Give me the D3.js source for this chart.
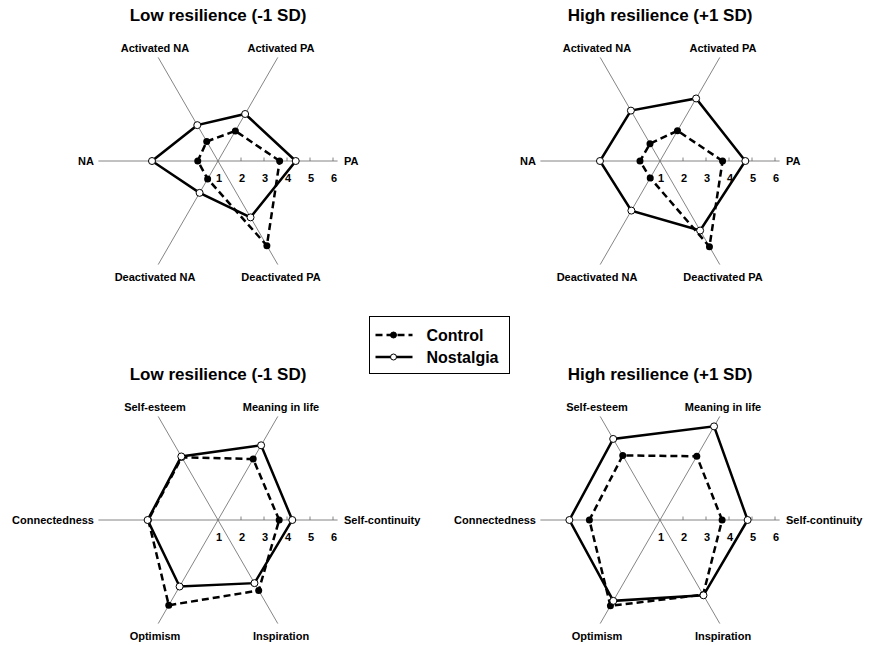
<!DOCTYPE html>
<html>
<head>
<meta charset="utf-8">
<script src="https://cdn.jsdelivr.net/npm/d3@7"></script>
<style>
  body { margin: 0; background: #fff; }
  svg text { font-family: "Liberation Sans", Arial, sans-serif; font-weight: bold; fill: #000; }
</style>
</head>
<body>
<div id="chart"></div>
<script>
// Axis names (counter-clockwise from the right)
const affectAxes = ["PA", "Activated PA", "Activated NA", "NA", "Deactivated NA", "Deactivated PA"];
const selfAxes = ["Self-continuity", "Meaning in life", "Self-esteem", "Connectedness", "Optimism", "Inspiration"];
const tickValues = [1, 2, 3, 4, 5, 6];

// Series values, same order as the axes
const affectLowControl = [3.68, 2.51, 1.98, 1.88, 1.90, 5.25];
const affectLowNostalgia = [4.38, 3.36, 2.80, 3.87, 2.60, 3.83];
const affectHighControl = [3.72, 2.52, 1.87, 1.87, 1.85, 5.30];
const affectHighNostalgia = [4.71, 4.14, 3.53, 3.61, 3.49, 4.49];
const selfLowControl = [3.66, 4.06, 4.15, 4.03, 5.28, 4.54];
const selfLowNostalgia = [4.23, 4.75, 4.19, 4.06, 4.34, 4.17];
const selfHighControl = [3.70, 4.20, 4.24, 4.07, 5.31, 4.75];
const selfHighNostalgia = [4.81, 5.70, 5.07, 4.94, 5.06, 4.78];

const width = 870;
const height = 645;

const svg = d3.select("#chart").append("svg")
    .attr("width", width)
    .attr("height", height);

// value 1 sits in the centre, 6 at the outer tick
const r = d3.scaleLinear().domain([1, 6]).range([0, 115]);
const axisEnd = r(6.2);
const angle = i => i * Math.PI / 3;

const panels = [
    { cx: 218, cy: 161, title: "Low resilience (-1 SD)", axes: affectAxes, control: affectLowControl, nostalgia: affectLowNostalgia },
    { cx: 660, cy: 161, title: "High resilience (+1 SD)", axes: affectAxes, control: affectHighControl, nostalgia: affectHighNostalgia },
    { cx: 218, cy: 520, title: "Low resilience (-1 SD)", axes: selfAxes, control: selfLowControl, nostalgia: selfLowNostalgia },
    { cx: 660, cy: 520, title: "High resilience (+1 SD)", axes: selfAxes, control: selfHighControl, nostalgia: selfHighNostalgia }
];

function drawPanel(p) {
    const g = svg.append("g").attr("transform", `translate(${p.cx},${p.cy})`);

    g.append("text")
        .attr("x", 0)
        .attr("y", -140)
        .attr("text-anchor", "middle")
        .attr("font-size", 17)
        .text(p.title);

    // spokes
    g.selectAll(".spoke")
        .data(p.axes)
        .enter().append("line")
        .attr("class", "spoke")
        .attr("x1", 0).attr("y1", 0)
        .attr("x2", (d, i) => axisEnd * Math.cos(angle(i)))
        .attr("y2", (d, i) => -axisEnd * Math.sin(angle(i)))
        .attr("stroke", "#666")
        .attr("stroke-width", 0.8);

    // ticks on the right-hand axis
    g.selectAll(".tick")
        .data(tickValues.slice(1))
        .enter().append("line")
        .attr("class", "tick")
        .attr("x1", d => r(d)).attr("x2", d => r(d))
        .attr("y1", 0).attr("y2", -3.5)
        .attr("stroke", "#666")
        .attr("stroke-width", 0.8);

    g.selectAll(".ticklabel")
        .data(tickValues)
        .enter().append("text")
        .attr("class", "ticklabel")
        .attr("x", d => r(d) + 1)
        .attr("y", 21)
        .attr("text-anchor", "middle")
        .attr("font-size", 11)
        .text(d => d);

    // axis labels
    g.selectAll(".axlabel")
        .data(p.axes)
        .enter().append("text")
        .attr("class", "axlabel")
        .attr("font-size", 11)
        .attr("text-anchor", (d, i) => i === 0 ? "start" : i === 3 ? "end" : "middle")
        .attr("x", (d, i) => {
            if (i === 0) return 126;
            if (i === 3) return -124;
            return 63 * Math.sign(Math.cos(angle(i)));
        })
        .attr("y", (d, i) => {
            if (i === 0 || i === 3) return 4;
            return Math.sin(angle(i)) > 0 ? -109 : 120;
        })
        .text(d => d);

    const line = d3.lineRadial()
        .angle((d, i) => Math.PI / 2 - angle(i))
        .radius(d => r(d))
        .curve(d3.curveLinearClosed);

    // control (dashed, filled markers)
    g.append("path")
        .attr("d", line(p.control))
        .attr("fill", "none")
        .attr("stroke", "#000")
        .attr("stroke-width", 2.5)
        .attr("stroke-dasharray", "7,4");

    g.selectAll(".cdot")
        .data(p.control)
        .enter().append("circle")
        .attr("class", "cdot")
        .attr("cx", (d, i) => r(d) * Math.cos(angle(i)))
        .attr("cy", (d, i) => -r(d) * Math.sin(angle(i)))
        .attr("r", 3.5)
        .attr("fill", "#000");

    // nostalgia (solid, open markers)
    g.append("path")
        .attr("d", line(p.nostalgia))
        .attr("fill", "none")
        .attr("stroke", "#000")
        .attr("stroke-width", 2.5);

    g.selectAll(".ndot")
        .data(p.nostalgia)
        .enter().append("circle")
        .attr("class", "ndot")
        .attr("cx", (d, i) => r(d) * Math.cos(angle(i)))
        .attr("cy", (d, i) => -r(d) * Math.sin(angle(i)))
        .attr("r", 3.5)
        .attr("fill", "#fff")
        .attr("stroke", "#000")
        .attr("stroke-width", 1);
}

panels.forEach(drawPanel);

// Legend
const legend = svg.append("g").attr("transform", "translate(369.5,316.5)");
legend.append("rect")
    .attr("width", 140)
    .attr("height", 57)
    .attr("fill", "#fff")
    .attr("stroke", "#000")
    .attr("stroke-width", 1);

const legendItems = [
    { name: "Control", dash: "7,4", fill: "#000" },
    { name: "Nostalgia", dash: null, fill: "#fff" }
];

legendItems.forEach((item, i) => {
    const y = 18.5 + i * 22;
    legend.append("line")
        .attr("x1", 6).attr("x2", 43)
        .attr("y1", y).attr("y2", y)
        .attr("stroke", "#000")
        .attr("stroke-width", 2.5)
        .attr("stroke-dasharray", item.dash);
    legend.append("circle")
        .attr("cx", 24).attr("cy", y)
        .attr("r", 3)
        .attr("fill", item.fill)
        .attr("stroke", "#000")
        .attr("stroke-width", 1);
    legend.append("text")
        .attr("x", 57)
        .attr("y", y + 6)
        .attr("font-size", 16)
        .text(item.name);
});
</script>
</body>
</html>
